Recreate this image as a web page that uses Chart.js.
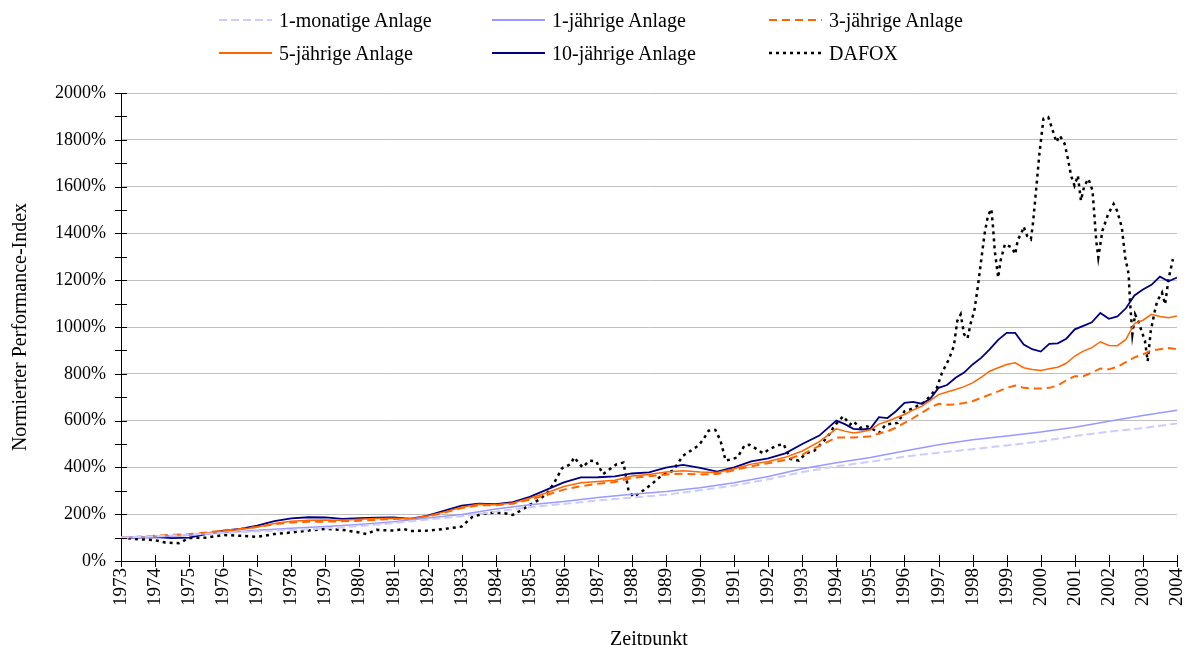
<!DOCTYPE html>
<html lang="de">
<head>
<meta charset="utf-8">
<title>Normierter Performance-Index</title>
<script src="https://cdn.jsdelivr.net/npm/chart.js@4.4.1/dist/chart.umd.min.js"></script>
<style>
  html, body { margin: 0; padding: 0; background: #fff; }
  #wrap { position: relative; width: 1191px; height: 645px; overflow: hidden; }
  #legende { position: absolute; left: 0; top: 0; width: 1191px; height: 80px;
             font-family: "Liberation Serif", "Times New Roman", serif; font-size: 20px; color: #000; }
  .eintrag { position: absolute; display: flex; align-items: center; height: 24px; white-space: nowrap; }
  .eintrag svg { margin-right: 7px; }
</style>
</head>
<body>
<div id="wrap">
  <canvas id="chart" width="1191" height="665"></canvas>
  <div id="legende"></div>
</div>
<script>
// Jahresraster der Geldmarkt-/Kurzläufer-Reihen
const kurzJahre = [1973, 1974, 1975, 1976, 1977, 1978, 1979, 1980, 1981, 1982, 1983, 1984, 1985, 1986, 1987, 1988,
  1989, 1990, 1991, 1992, 1993, 1994, 1995, 1996, 1997, 1998, 1999, 2000, 2001, 2002, 2003, 2004];
const einMonat = [100, 106, 113, 120, 127, 133, 139, 149, 162, 177, 191, 211, 230, 244, 259, 271,
  283, 302, 323, 349, 380, 405, 424, 446, 463, 478, 494, 511, 534, 553, 568, 588];
const einJahr = [100, 103, 110, 121, 131, 140, 147, 156, 168, 184, 199, 222, 240, 254, 271, 285,
  297, 313, 334, 361, 394, 420, 442, 470, 497, 518, 534, 551, 572, 597, 622, 644];

// halbjährlich bis 1993, danach quartalsweise
const langJahre = [1973, 1973.5, 1974, 1974.5, 1975, 1975.5, 1976, 1976.5, 1977, 1977.5, 1978, 1978.5,
  1979, 1979.5, 1980, 1980.5, 1981, 1981.5, 1982, 1982.5, 1983, 1983.5, 1984, 1984.5, 1985, 1985.5,
  1986, 1986.5, 1987, 1987.5, 1988, 1988.5, 1989, 1989.5, 1990, 1990.5, 1991, 1991.5, 1992, 1992.5,
  1993, 1993.5,
  1994, 1994.25, 1994.5, 1994.75, 1995, 1995.25, 1995.5, 1995.75, 1996, 1996.25, 1996.5, 1996.75,
  1997, 1997.25, 1997.5, 1997.75, 1998, 1998.25, 1998.5, 1998.75, 1999, 1999.25, 1999.5, 1999.75,
  2000, 2000.25, 2000.5, 2000.75, 2001, 2001.25, 2001.5, 2001.75, 2002, 2002.25, 2002.5, 2002.75,
  2003, 2003.25, 2003.5, 2003.75, 2004];
const dreiJahre = [100, 104, 108, 112, 115, 122, 130, 137, 145, 157, 165, 168, 168, 170, 172, 176,
  180, 182, 190, 207, 226, 238, 238, 245, 262, 282, 305, 320, 330, 338, 355, 362, 370, 373, 370, 372,
  388, 405, 418, 432, 455, 492,
  528, 528, 528, 530, 533, 545, 554, 570, 590, 610, 633, 655, 672, 668, 669, 675, 683, 697, 711, 725,
  740, 750, 740, 737, 737, 740, 750, 772, 790, 790, 805, 823, 819, 830, 850, 870, 883, 900, 905, 910, 905];
const fuenfJahre = [100, 102, 106, 108, 110, 120, 128, 135, 145, 160, 170, 174, 175, 174, 178, 182,
  183, 180, 192, 210, 230, 242, 240, 248, 268, 292, 318, 334, 340, 345, 363, 370, 380, 386, 380, 378,
  394, 414, 425, 443, 470, 510,
  565, 555, 547, 552, 561, 585, 597, 612, 626, 645, 661, 685, 711, 722, 733, 745, 761, 785, 811, 826,
  840, 847, 826, 818, 814, 822, 828, 845, 876, 897, 912, 937, 921, 920, 947, 1015, 1029, 1054, 1045, 1040, 1047];
const zehnJahre = [100, 100, 102, 98, 100, 115, 130, 137, 151, 170, 182, 187, 186, 180, 183, 185,
  186, 180, 194, 215, 237, 245, 243, 252, 274, 305, 336, 357, 358, 362, 374, 379, 399, 411, 398, 382,
  400, 426, 439, 460, 500, 536,
  600, 585, 565, 562, 566, 615, 611, 640, 676, 680, 672, 692, 740, 752, 783, 805, 840, 868, 904, 945,
  975, 975, 925, 905, 895, 928, 930, 950, 990, 1005, 1020, 1060, 1035, 1045, 1080, 1135, 1160, 1180, 1215, 1195, 1211];

// Aktienindex DAFOX
const dafoxJahre = [1973, 1973.5, 1974, 1974.3, 1974.7, 1975, 1975.5, 1976, 1976.5, 1977, 1977.5, 1978,
  1978.5, 1979, 1979.5, 1980, 1980.2, 1980.5, 1981, 1981.3, 1981.5, 1982, 1982.5, 1983, 1983.3, 1983.6,
  1984, 1984.3, 1984.5, 1984.8, 1985, 1985.3, 1985.55, 1985.75, 1985.95, 1986.2, 1986.3, 1986.55, 1986.75,
  1986.95, 1987.15, 1987.55, 1987.75, 1987.9, 1988.05, 1988.35, 1988.6, 1988.8, 1989, 1989.2, 1989.5,
  1989.7, 1989.95, 1990.1, 1990.25, 1990.45, 1990.6, 1990.75, 1990.95, 1991.1, 1991.3, 1991.45, 1991.65,
  1991.85, 1992.05, 1992.25, 1992.45, 1992.65, 1992.9, 1993.1, 1993.35, 1993.6, 1993.8, 1993.95, 1994.2,
  1994.4, 1994.5, 1994.7, 1994.9, 1995.1, 1995.25, 1995.45, 1995.8, 1996, 1996.15, 1996.35, 1996.55,
  1996.75, 1996.95, 1997.1, 1997.3, 1997.45, 1997.55, 1997.65, 1997.75, 1997.85, 1997.95, 1998.05,
  1998.15, 1998.25, 1998.35, 1998.45, 1998.55, 1998.6, 1998.65, 1998.75, 1998.82, 1998.95, 1999.15,
  1999.25, 1999.33, 1999.42, 1999.5, 1999.6, 1999.71, 1999.77, 1999.88, 1999.96, 2000.08, 2000.22,
  2000.32, 2000.46, 2000.56, 2000.7, 2000.8, 2000.89, 2000.99, 2001.09, 2001.18, 2001.28, 2001.4,
  2001.52, 2001.63, 2001.69, 2001.81, 2001.98, 2002.14, 2002.24, 2002.38, 2002.48, 2002.58, 2002.62,
  2002.69, 2002.77, 2002.86, 2002.96, 2003.06, 2003.14, 2003.23, 2003.35, 2003.42, 2003.56, 2003.65,
  2003.75, 2003.88];
const dafoxWerte = [100, 93, 89, 79, 76, 98, 100, 111, 108, 103, 115, 122,
  130, 137, 133, 122, 115, 133, 130, 137, 128, 130, 137, 147, 187, 201,
  207, 203, 197, 221, 240, 264, 297, 343, 397, 414, 443, 400, 429,
  426, 371, 414, 421, 300, 274, 303, 331, 357, 374, 386, 450,
  469, 493, 521, 557, 560, 514, 429, 436, 443, 493, 497, 479,
  460, 479, 493, 500, 436, 429, 460, 471, 507, 543, 579, 619,
  583, 597, 569, 576, 561, 547, 583, 590, 640, 647, 661, 676,
  704, 740, 804, 861, 919, 1026, 1054, 969, 951, 1019, 1069,
  1169, 1283, 1397, 1476, 1504, 1426, 1326, 1211, 1283, 1354, 1340,
  1311, 1375, 1395, 1429, 1389, 1375, 1440, 1611, 1740, 1890, 1897,
  1854, 1790, 1818, 1783, 1718, 1647, 1604, 1647, 1540, 1604, 1633,
  1583, 1368, 1297, 1411, 1483, 1526, 1497, 1426, 1297, 1226, 1111,
  969, 1054, 1026, 983, 940, 854, 983, 1069, 1111, 1147, 1097,
  1204, 1290];

const yTicks = [0, 200, 400, 600, 800, 1000, 1200, 1400, 1600, 1800, 2000];

function punkte(jahre, werte) {
  return jahre.map((j, i) => ({ x: j, y: werte[i] }));
}

const schrift = '"Liberation Serif", "Times New Roman", serif';

// Tickstriche, die die Achse kreuzen
const achsenStriche = {
  id: 'achsenStriche',
  afterDraw(chart) {
    const { ctx, chartArea, scales } = chart;
    ctx.save();
    ctx.strokeStyle = '#000';
    ctx.lineWidth = 1;
    ctx.beginPath();
    scales.x.ticks.forEach(t => {
      const px = Math.round(scales.x.getPixelForValue(t.value)) + 0.5;
      ctx.moveTo(px, chartArea.bottom - 6);
      ctx.lineTo(px, chartArea.bottom + 6);
    });
    scales.y.ticks.forEach(t => {
      const py = Math.round(scales.y.getPixelForValue(t.value)) + 0.5;
      ctx.moveTo(chartArea.left - 6, py);
      ctx.lineTo(chartArea.left + 6, py);
    });
    ctx.stroke();
    ctx.restore();
  }
};

const chart = new Chart(document.getElementById('chart'), {
  type: 'line',
  data: {
    datasets: [
      { label: '1-monatige Anlage', data: punkte(kurzJahre, einMonat), borderColor: '#ccccff', borderWidth: 2, borderDash: [8, 4] },
      { label: '1-jährige Anlage', data: punkte(kurzJahre, einJahr), borderColor: '#9999ff', borderWidth: 1.5 },
      { label: '3-jährige Anlage', data: punkte(langJahre, dreiJahre), borderColor: '#ff6600', borderWidth: 2, borderDash: [8, 5] },
      { label: '5-jährige Anlage', data: punkte(langJahre, fuenfJahre), borderColor: '#ff6600', borderWidth: 1.5 },
      { label: '10-jährige Anlage', data: punkte(langJahre, zehnJahre), borderColor: '#000080', borderWidth: 1.8 },
      { label: 'DAFOX', data: punkte(dafoxJahre, dafoxWerte), borderColor: '#000000', borderWidth: 2.5, borderDash: [3, 4] }
    ]
  },
  options: {
    responsive: false,
    animation: false,
    layout: { padding: { top: 93, right: 14, left: 0, bottom: 0 } },
    elements: { point: { radius: 0 }, line: { tension: 0, fill: false } },
    plugins: { legend: { display: false }, tooltip: { enabled: false } },
    scales: {
      x: {
        type: 'linear',
        min: 1973,
        max: 2004,
        afterFit: s => { s.height = 104; s.paddingLeft = 0; s.paddingRight = 0; },
        grid: { display: false, drawTicks: false },
        border: { display: true, color: '#000', width: 1 },
        ticks: {
          stepSize: 1,
          autoSkip: false,
          minRotation: 90,
          maxRotation: 90,
          padding: 7,
          color: '#000',
          font: { family: schrift, size: 19 },
          callback: v => String(v)
        },
        title: { display: true, text: 'Zeitpunkt', color: '#000', font: { family: schrift, size: 20 }, padding: { top: 13, bottom: 13 } }
      },
      y: {
        min: 0,
        max: 2000,
        afterFit: s => { s.width = 121; s.paddingTop = 0; s.paddingBottom = 0; },
        grid: {
          drawTicks: false,
          color: c => (c.tick && c.tick.value > 0 && yTicks.includes(c.tick.value)) ? '#c0c0c0' : 'rgba(0,0,0,0)'
        },
        border: { display: true, color: '#000', width: 1 },
        ticks: {
          stepSize: 100,
          autoSkip: false,
          padding: 15,
          color: '#000',
          font: { family: schrift, size: 18 },
          callback: v => yTicks.includes(v) ? v + '%' : ''
        },
        title: { display: true, text: 'Normierter Performance-Index', color: '#000', font: { family: schrift, size: 20 }, padding: { top: 9, bottom: 9 } }
      }
    }
  },
  plugins: [achsenStriche]
});

// Legende in drei Spalten, zwei Zeilen
const spalten = [219, 492, 769];
const zeilen = [8, 41];
const legende = document.getElementById('legende');
chart.data.datasets.forEach((ds, i) => {
  const div = document.createElement('div');
  div.className = 'eintrag';
  div.style.left = spalten[i % 3] + 'px';
  div.style.top = zeilen[Math.floor(i / 3)] + 'px';
  const dash = ds.borderDash ? ds.borderDash.join(',') : 'none';
  div.innerHTML = '<svg width="53" height="6"><line x1="0" y1="3" x2="53" y2="3" stroke="' + ds.borderColor +
    '" stroke-width="' + Math.max(ds.borderWidth, 2) + '" stroke-dasharray="' + dash + '"/></svg>';
  const span = document.createElement('span');
  span.textContent = ds.label;
  div.appendChild(span);
  legende.appendChild(div);
});
</script>
</body>
</html>
